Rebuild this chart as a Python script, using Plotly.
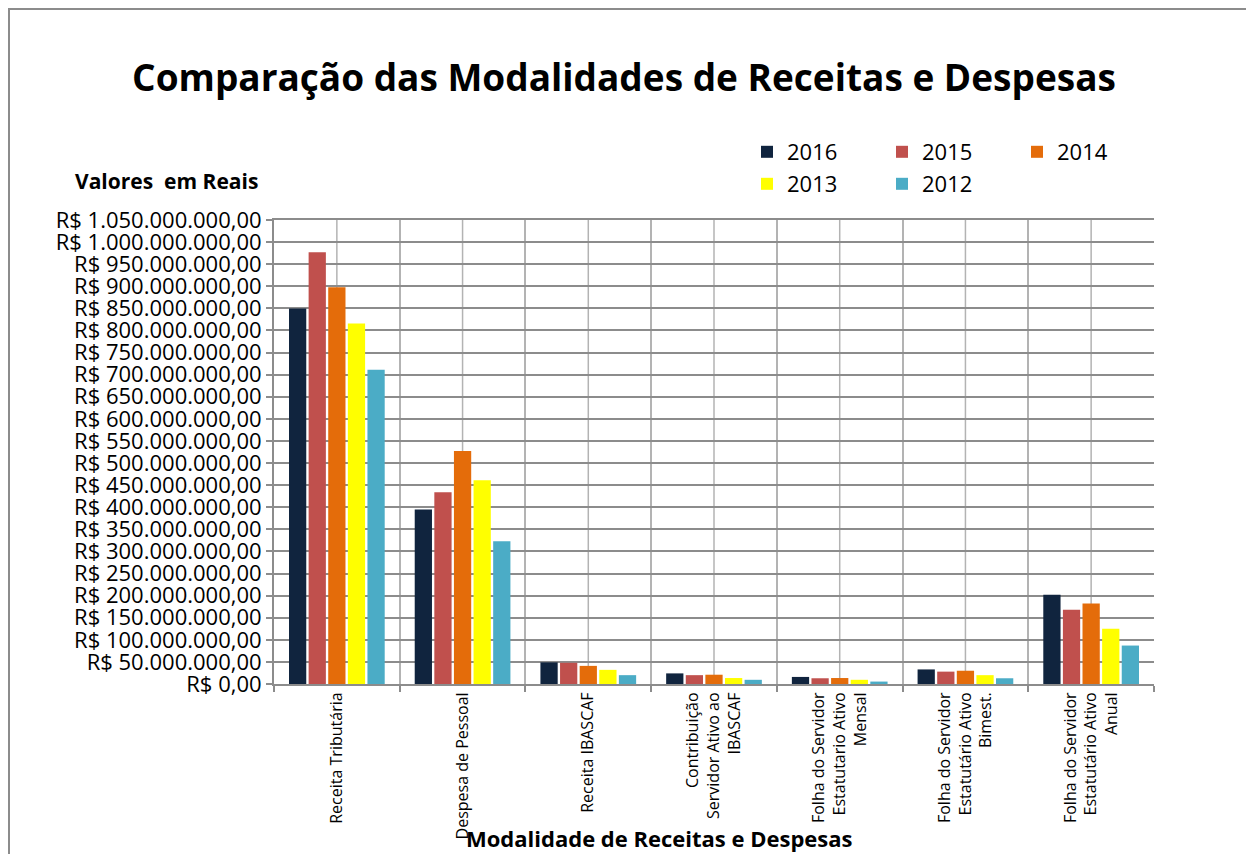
import plotly.graph_objects as go

categories = [
    "Receita Tributária",
    "Despesa de Pessoal",
    "Receita IBASCAF",
    "Contribuição<br>Servidor Ativo ao<br>IBASCAF",
    "Folha do Servidor<br>Estatutario Ativo<br>Mensal",
    "Folha do Servidor<br>Estatutário Ativo<br>Bimest.",
    "Folha do Servidor<br>Estatutário Ativo<br>Anual",
]
years = ["2016", "2015", "2014", "2013", "2012"]
v2016 = [850e6, 395e6, 49e6, 24e6, 16e6, 33e6, 202e6]
v2015 = [977e6, 434e6, 48e6, 20e6, 13e6, 28e6, 168e6]
v2014 = [898e6, 527e6, 41e6, 21e6, 13.5e6, 30e6, 182e6]
v2013 = [816e6, 461e6, 32e6, 13.5e6, 9.5e6, 20e6, 125e6]
v2012 = [711e6, 323e6, 20e6, 9.5e6, 5.5e6, 13e6, 87e6]
colors = ["#10243e", "#c0504d", "#e46c0a", "#ffff00", "#4bacc6"]
legend_ids = ["legend", "legend", "legend", "legend2", "legend2"]
tick_values = [i * 50e6 for i in range(22)]


def brl(v):
    s = f"{v:,.2f}".replace(",", "X").replace(".", ",").replace("X", ".")
    return "R$ " + s


tick_text = [brl(v) for v in tick_values]

W, H = 1246, 854
L, R, T, B = 274, 92, 220, 170
PW, PH = W - L - R, H - T - B


def px(x):
    return (x - L) / PW


def py(y):
    return (H - B - y) / PH


fig = go.Figure()
for name, vals, col, lg in zip(years, [v2016, v2015, v2014, v2013, v2012], colors, legend_ids):
    fig.add_trace(go.Bar(name=name, x=categories, y=vals, legend=lg,
                         marker=dict(color=col, line=dict(width=0))))

shapes = []
for i in range(len(categories)):
    shapes.append(dict(type="line", xref="x", yref="paper", x0=i, x1=i, y0=0, y1=1,
                       line=dict(color="#b3b3b3", width=1.5), layer="below"))
shapes.append(dict(type="rect", xref="paper", yref="paper", x0=px(9), x1=px(1260),
                   y0=py(880), y1=py(9), line=dict(color="#8c8c8c", width=2), layer="below"))

legend_common = dict(orientation="h", xanchor="left", yanchor="middle",
                     font=dict(size=22, family="Open Sans"), entrywidth=90, entrywidthmode="pixels",
                     traceorder="normal", bgcolor="rgba(0,0,0,0)")

fig.update_layout(
    width=W, height=H,
    margin=dict(l=L, r=R, t=T, b=B),
    paper_bgcolor="white", plot_bgcolor="white",
    barmode="group", bargap=0.22, bargroupgap=0.12,
    font=dict(family="Open Sans", color="black"),
    title=dict(text="<b>Comparação das Modalidades de Receitas e Despesas</b>",
               x=624 / W, xref="container", xanchor="center", y=1 - 78 / H, yref="container",
               yanchor="middle", font=dict(family="Open Sans", size=37, color="black")),
    xaxis=dict(type="category", tickson="boundaries", showgrid=True, gridcolor="#b3b3b3", gridwidth=1.5,
               ticks="outside", ticklen=6, tickcolor="#8c8c8c", tickwidth=1.5,
               tickangle=-90, tickfont=dict(size=16, family="Open Sans"),
               showline=True, linecolor="#8c8c8c", linewidth=2, mirror=True,
               range=[-0.5, len(categories) - 0.5]),
    yaxis=dict(range=[0, 1050e6], tickvals=tick_values, ticktext=tick_text,
               tickfont=dict(size=22, family="Open Sans"),
               showgrid=True, gridcolor="#8c8c8c", gridwidth=2,
               ticks="outside", ticklen=6, tickcolor="#8c8c8c", tickwidth=2,
               showline=True, linecolor="#8c8c8c", linewidth=2, zeroline=False),
    legend=dict(x=px(747), y=py(152), **legend_common),
    legend2=dict(x=px(747), y=py(184), **legend_common),
    shapes=shapes,
    annotations=[
        dict(text="<b>Valores  em Reais</b>", xref="paper", yref="paper", x=px(166), y=py(181),
             xanchor="center", yanchor="middle", showarrow=False, font=dict(size=21, family="Open Sans")),
        dict(text="<b>Modalidade de Receitas e Despesas</b>", xref="paper", yref="paper",
             x=px(659), y=py(838), xanchor="center", yanchor="middle", showarrow=False,
             font=dict(size=22, family="Open Sans")),
    ],
)

fig.write_html("out.html", config={"displayModeBar": False},
               post_script="document.body.style.margin='0';")
